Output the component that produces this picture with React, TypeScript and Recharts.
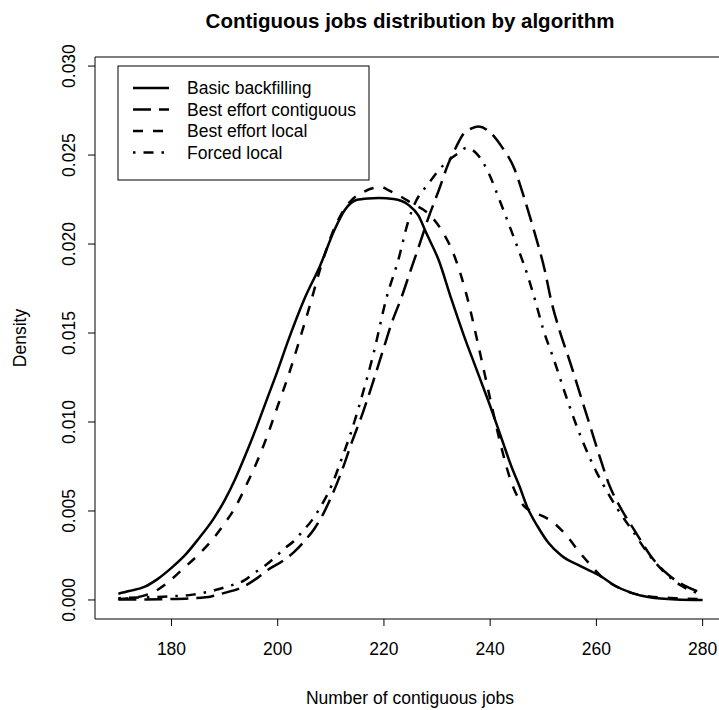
import { LineChart, Line, XAxis, YAxis, ReferenceArea, Customized } from 'recharts'

// density estimates: [jobs, density]
const basicBackfilling = [
  [170, 0.00035], [172, 0.0005], [175, 0.00075], [177.5, 0.0012], [180, 0.0018], [182.5, 0.0025],
  [185, 0.0034], [188, 0.0046], [190, 0.0056], [192, 0.0068], [194, 0.0082], [196, 0.0097],
  [198, 0.0113], [200, 0.0129], [202, 0.0146], [205, 0.0169], [208, 0.0188], [210.7, 0.0208],
  [212.6, 0.0219], [214.8, 0.02247], [217, 0.02256], [219, 0.02258], [221.8, 0.02253], [224.6, 0.0222],
  [226.5, 0.0216], [228, 0.0206], [230.3, 0.0191], [232.7, 0.0169], [235, 0.0149], [237.5, 0.0129],
  [240, 0.0109], [242, 0.0092], [244, 0.0075], [245.5, 0.0064], [247, 0.0052], [249, 0.0041],
  [251, 0.0032], [253.4, 0.0025], [257, 0.0019], [261, 0.0013], [263.5, 0.0008], [266.6, 0.0004],
  [270, 0.00015], [275, 0.00003], [280, 0],
]

const bestEffortContiguous = [
  [170, 0.00003], [175, 0.00003], [180, 0.00005], [184, 0.0001], [187.5, 0.0002], [190, 0.0004],
  [193.2, 0.0007], [196, 0.0012], [198.2, 0.0017], [201, 0.0022], [203.1, 0.0027], [205, 0.0033],
  [206.9, 0.004], [208.5, 0.0048], [210.1, 0.0058], [212, 0.0072], [214, 0.0089], [216, 0.0105],
  [218, 0.0123], [220, 0.0142], [221.5, 0.0156], [223.3, 0.017], [225, 0.0185], [226.5, 0.0198],
  [228.4, 0.0215], [230.3, 0.023], [232.1, 0.0245], [233.5, 0.0254], [235, 0.0262], [236.5, 0.0265],
  [237.8, 0.0266], [239.9, 0.0263], [242.1, 0.0255], [244.6, 0.0242], [246.5, 0.0225], [248.4, 0.0206],
  [250.3, 0.0185], [251.5, 0.0168], [253, 0.0152], [255, 0.0134], [257, 0.0115], [259, 0.0096],
  [261, 0.0077], [262.5, 0.0064], [264.5, 0.0052], [267.2, 0.0039], [270.4, 0.0024], [273.6, 0.0014],
  [276.6, 0.0008], [280, 0.0004],
]

const bestEffortLocal = [
  [170, 0.00005], [172, 0.0001], [174.3, 0.0002], [177, 0.0005], [179.4, 0.001], [182, 0.0017],
  [185.6, 0.0027], [188, 0.0035], [190, 0.0043], [192, 0.0052], [194, 0.0064], [196, 0.0077],
  [198, 0.0092], [200, 0.0109], [202, 0.0126], [204, 0.0145], [206, 0.0165], [208, 0.0186],
  [210, 0.0204], [212, 0.0217], [214, 0.0225], [216, 0.0229], [218, 0.02315], [219.5, 0.0232],
  [221, 0.023], [222.7, 0.02275], [225.2, 0.0223], [228.4, 0.0217], [230.8, 0.0208], [233.3, 0.0193],
  [235.5, 0.0172], [238, 0.014], [240, 0.0113], [242, 0.0087], [244, 0.0066], [246, 0.0054],
  [248.4, 0.0049], [250, 0.0047], [252.1, 0.0043], [254.7, 0.0035], [256.5, 0.0028], [258.5, 0.0021],
  [261, 0.0013], [263.5, 0.0008], [266.6, 0.0004], [270, 0.0002], [275, 0.0001], [280, 0.00005],
]

const forcedLocal = [
  [170, 0.0001], [175, 0.00015], [179.4, 0.0002], [184, 0.0003], [188.8, 0.0006], [191, 0.0008],
  [193.7, 0.0011], [195.5, 0.0015], [197.5, 0.0019], [199.5, 0.0024], [201.3, 0.0029], [203, 0.0033],
  [204.5, 0.0038], [206.5, 0.0045], [208.2, 0.0053], [210.1, 0.0064], [212, 0.0079], [214, 0.0096],
  [216, 0.0116], [218, 0.0138], [220.5, 0.017], [222.7, 0.0191], [224.6, 0.0213], [225.7, 0.0222],
  [228.4, 0.0234], [231.4, 0.0245], [234, 0.0251], [235.5, 0.0254], [237.4, 0.0251], [239.7, 0.024],
  [241.6, 0.0226], [243.4, 0.0212], [245.3, 0.0197], [247.2, 0.0181], [248.5, 0.0168], [250, 0.0152],
  [252, 0.0135], [254, 0.0117], [256, 0.01], [258, 0.0085], [260, 0.0072], [262, 0.0061],
  [264, 0.0051], [267, 0.0038], [270, 0.0025], [273, 0.0015], [276, 0.0008], [280, 0.0003],
]

const xTicks = [180, 200, 220, 240, 260, 280]
const yTicks = [0, 0.005, 0.01, 0.015, 0.02, 0.025, 0.03]
const legendLabels = ['Basic backfilling', 'Best effort contiguous', 'Best effort local', 'Forced local']

const X_DOMAIN: [number, number] = [165.6, 284.4]
const Y_DOMAIN: [number, number] = [-0.00107, 0.03051]
const FONT = '"Liberation Sans", Arial, Helvetica, sans-serif'
const dashes = [undefined, '18 8', '10 10', '2.5 8 10 8']
const series = [basicBackfilling, bestEffortContiguous, bestEffortLocal, forcedLocal]

const toPts = (arr: number[][]) => arr.map(([x, y]) => ({ x, y }))

const XTick = ({ x, payload }: any) => (
  <text x={x} y={655} textAnchor="middle" fontSize={17.5} fontFamily={FONT} fill="#000">
    {payload.value}
  </text>
)

const YTick = ({ y, payload }: any) => (
  <text transform={`translate(75, ${y}) rotate(-90)`} textAnchor="middle" fontSize={17.5} fontFamily={FONT} fill="#000">
    {payload.value.toFixed(3)}
  </text>
)

const Decorations = () => (
  <g fontFamily={FONT} fill="#000">
    <text x={410} y={28} textAnchor="middle" fontSize={20.5} fontWeight="bold">
      Contiguous jobs distribution by algorithm
    </text>
    <text x={410} y={704} textAnchor="middle" fontSize={17.5}>Number of contiguous jobs</text>
    <text transform="translate(26, 338) rotate(-90)" textAnchor="middle" fontSize={17.5}>Density</text>
    <rect x={118} y={66} width={251} height={114} fill="none" stroke="#000" strokeWidth={1} />
    {legendLabels.map((label, i) => {
      const cy = 88 + i * 21.5
      return (
        <g key={label}>
          <line x1={133} x2={169} y1={cy} y2={cy} stroke="#000" strokeWidth={2.5} strokeDasharray={dashes[i]} />
          <text x={187} y={cy + 6} fontSize={17.5}>{label}</text>
        </g>
      )
    })}
  </g>
)

export default function App() {
  return (
    <div style={{ position: 'absolute', left: 0, top: 0, width: 719, height: 710, overflow: 'hidden', background: '#fff' }}>
      <LineChart width={740} height={710} margin={{ top: 57, right: 14, bottom: 0, left: 0 }}>
        <XAxis
          type="number"
          dataKey="x"
          domain={X_DOMAIN}
          ticks={xTicks}
          allowDataOverflow
          height={91}
          axisLine={false}
          tickLine={{ stroke: '#000' }}
          tickSize={7}
          tick={<XTick />}
        />
        <YAxis
          type="number"
          dataKey="y"
          domain={Y_DOMAIN}
          ticks={yTicks}
          allowDataOverflow
          width={95}
          axisLine={false}
          tickLine={{ stroke: '#000' }}
          tickSize={7}
          tick={<YTick />}
        />
        <ReferenceArea x1={X_DOMAIN[0]} x2={X_DOMAIN[1]} y1={Y_DOMAIN[0]} y2={Y_DOMAIN[1]} fill="none" stroke="#000" strokeWidth={1} />
        {series.map((s, i) => (
          <Line
            key={legendLabels[i]}
            data={toPts(s)}
            dataKey="y"
            type="monotone"
            stroke="#000"
            strokeWidth={2.5}
            strokeDasharray={dashes[i]}
            dot={false}
            activeDot={false}
            isAnimationActive={false}
          />
        ))}
        <Customized component={Decorations} />
      </LineChart>
    </div>
  )
}
